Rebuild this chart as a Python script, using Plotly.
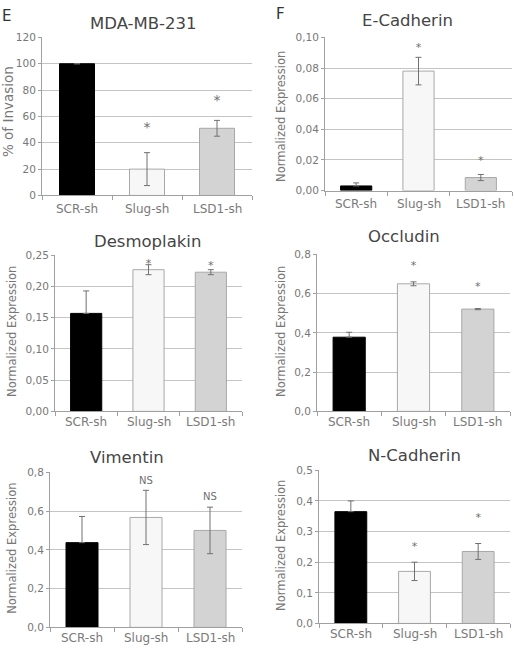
import plotly.graph_objects as go

W, H = 514, 653

categories = ["SCR-sh", "Slug-sh", "LSD1-sh"]

# values
invasion_vals = [100, 20, 51]
invasion_err = [0, 12.5, 6]
invasion_sig = ["", "*", "*"]
invasion_sig_y = [None, 51, 71]

ecad_vals = [0.003, 0.078, 0.0085]
ecad_err = [0.002, 0.009, 0.002]
ecad_sig = ["", "*", "*"]
ecad_sig_y = [None, 0.093, 0.019]

desmo_vals = [0.157, 0.227, 0.223]
desmo_err = [0.036, 0.008, 0.004]
desmo_sig = ["", "*", "*"]
desmo_sig_y = [None, 0.236, 0.232]

occl_vals = [0.378, 0.650, 0.521]
occl_err = [0.025, 0.010, 0.003]
occl_sig = ["", "*", "*"]
occl_sig_y = [None, 0.74, 0.63]

vim_vals = [0.437, 0.567, 0.500]
vim_err = [0.135, 0.140, 0.120]
vim_sig = ["", "NS", "NS"]
vim_sig_y = [None, 0.755, 0.67]

ncad_vals = [0.365, 0.170, 0.235]
ncad_err = [0.035, 0.030, 0.026]
ncad_sig = ["", "*", "*"]
ncad_sig_y = [None, 0.25, 0.345]

bar_colors = ["#000000", "#f7f7f7", "#d3d3d3"]
bar_lines = ["#000000", "#a8a8a8", "#a8a8a8"]

FONT = "DejaVu Sans"

panels = [
    dict(title="MDA-MB-231", ytitle="% of Invasion", vals=invasion_vals, err=invasion_err,
         sig=invasion_sig, sig_y=invasion_sig_y, rng=[0, 120], dtick=20, fmt="d",
         rect=(42, 252, 32, 193), title_xy=(143, 18), ytitle_xy=(8, 108), ytsize=13.5,
         xlab_y=207, sigsize=14),
    dict(title="E-Cadherin", ytitle="Normalized Expression", vals=ecad_vals, err=ecad_err,
         sig=ecad_sig, sig_y=ecad_sig_y, rng=[0, 0.10], dtick=0.02, fmt=".2f",
         rect=(325, 512, 32, 188), title_xy=(407, 15), ytitle_xy=(281, 113), ytsize=11.5,
         xlab_y=202, sigsize=11),
    dict(title="Desmoplakin", ytitle="Normalized Expression", vals=desmo_vals, err=desmo_err,
         sig=desmo_sig, sig_y=desmo_sig_y, rng=[0, 0.25], dtick=0.05, fmt=".2f",
         rect=(55, 242, 254, 413), title_xy=(147, 240), ytitle_xy=(12, 332), ytsize=11.5,
         xlab_y=424, sigsize=11),
    dict(title="Occludin", ytitle="Normalized Expression", vals=occl_vals, err=occl_err,
         sig=occl_sig, sig_y=occl_sig_y, rng=[0, 0.8], dtick=0.2, fmt=".1f",
         rect=(317, 510, 253, 413), title_xy=(404, 235), ytitle_xy=(281, 332), ytsize=11.5,
         xlab_y=424, sigsize=11),
    dict(title="Vimentin", ytitle="Normalized Expression", vals=vim_vals, err=vim_err,
         sig=vim_sig, sig_y=vim_sig_y, rng=[0, 0.8], dtick=0.2, fmt=".1f",
         rect=(50, 242, 475, 633), title_xy=(127, 460), ytitle_xy=(12, 553), ytsize=11.5,
         xlab_y=644, sigsize=10),
    dict(title="N-Cadherin", ytitle="Normalized Expression", vals=ncad_vals, err=ncad_err,
         sig=ncad_sig, sig_y=ncad_sig_y, rng=[0, 0.5], dtick=0.1, fmt=".1f",
         rect=(319, 510, 473, 629), title_xy=(414, 458), ytitle_xy=(281, 550), ytsize=11.5,
         xlab_y=640, sigsize=11),
]

fig = go.Figure()
annotations = []

for i, p in enumerate(panels):
    n = "" if i == 0 else str(i + 1)
    xa, ya = "x" + n, "y" + n
    x0, x1, y0, y1 = p["rect"]
    err_minus = [0] + list(p["err"][1:])
    fig.add_trace(go.Bar(
        x=categories, y=p["vals"], width=0.5,
        marker=dict(color=bar_colors, line=dict(color=bar_lines, width=1)),
        error_y=dict(type="data", array=p["err"], arrayminus=err_minus, symmetric=False,
                     color="#707070", thickness=1, width=3, visible=True),
        xaxis=xa, yaxis=ya, showlegend=False, hoverinfo="skip",
    ))
    fig.add_trace(go.Scatter(
        x=categories, y=p["sig_y"], text=p["sig"], mode="text",
        textfont=dict(family=FONT, size=p["sigsize"], color="#6e6e6e"),
        xaxis=xa, yaxis=ya, showlegend=False, hoverinfo="skip", cliponaxis=False,
    ))
    fig.layout["xaxis" + n] = dict(
        domain=[x0 / W, x1 / W], anchor=ya, type="category",
        showline=True, linecolor="#a0a0a0", linewidth=1,
        ticks="outside", tickson="boundaries", ticklen=4, tickcolor="#a0a0a0",
        showgrid=False, showticklabels=False, fixedrange=True,
        range=[-0.5, 2.5],
    )
    fig.layout["yaxis" + n] = dict(
        domain=[1 - y1 / H, 1 - y0 / H], anchor=xa, range=p["rng"],
        dtick=p["dtick"], tick0=0, tickformat=p["fmt"],
        showline=True, linecolor="#a0a0a0", linewidth=1,
        ticks="outside", ticklen=3, tickcolor="#a0a0a0",
        showgrid=True, gridcolor="#c4c4c4", gridwidth=1, zeroline=False,
        tickfont=dict(family=FONT, size=10.5, color="#777777"), fixedrange=True,
    )
    # category labels
    cw = (x1 - x0) / 3.0
    for k, c in enumerate(categories):
        annotations.append(dict(
            x=(x0 + cw * (k + 0.5)) / W, y=1 - p["xlab_y"] / H, xref="paper", yref="paper",
            text=c, showarrow=False, xanchor="center", yanchor="middle",
            font=dict(family=FONT, size=12, color="#7a7a7a"),
        ))
    annotations.append(dict(
        x=p["title_xy"][0] / W, y=1 - p["title_xy"][1] / H, xref="paper", yref="paper",
        text=p["title"], showarrow=False, xanchor="center", yanchor="middle",
        font=dict(family=FONT, size=16.5, color="#454545"),
    ))
    annotations.append(dict(
        x=p["ytitle_xy"][0] / W, y=1 - p["ytitle_xy"][1] / H, xref="paper", yref="paper",
        text=p["ytitle"], showarrow=False, xanchor="center", yanchor="middle", textangle=-90,
        font=dict(family=FONT, size=p["ytsize"], color="#777777"),
    ))

annotations.append(dict(x=6 / W, y=1 - 10 / H, xref="paper", yref="paper", text="E",
                        showarrow=False, xanchor="center", yanchor="middle",
                        font=dict(family=FONT, size=15, color="#333333")))
annotations.append(dict(x=280 / W, y=1 - 8 / H, xref="paper", yref="paper", text="F",
                        showarrow=False, xanchor="center", yanchor="middle",
                        font=dict(family=FONT, size=15, color="#333333")))

fig.update_layout(
    width=W, height=H, margin=dict(l=0, r=0, t=0, b=0),
    paper_bgcolor="white", plot_bgcolor="white",
    separators=", ", annotations=annotations,
    font=dict(family=FONT),
)

fig.write_html("out.html", config={"displayModeBar": False},
               post_script="document.body.style.margin='0';document.body.style.padding='0';")
